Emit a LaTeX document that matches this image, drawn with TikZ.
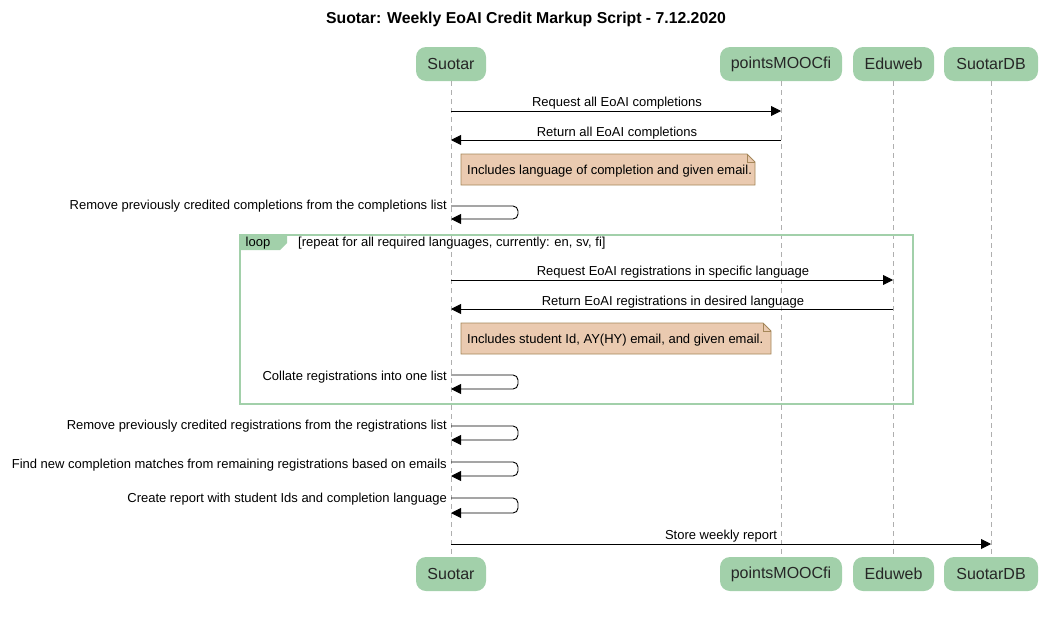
\documentclass[tikz,border=0pt]{standalone}
\usepackage{fontspec}
\setmainfont{Liberation Sans}
\usetikzlibrary{arrows.meta}
\definecolor{partfill}{RGB}{162,208,170}
\definecolor{notefill}{RGB}{234,202,176}
\definecolor{notedraw}{RGB}{165,135,90}
\definecolor{lifegray}{RGB}{175,175,175}
\tikzset{
  part/.style={fill=partfill, rounded corners=10pt, minimum height=34pt, inner xsep=0pt, font=\fontsize{16}{18}\selectfont, text=black!85},
  msg/.style={-{Triangle[length=10pt,width=10pt]}, line width=0.9pt},
  selfmsg/.style={msg, rounded corners=5pt},
  lbl/.style={font=\fontsize{13}{15}\selectfont, inner sep=0pt},
  life/.style={draw=lifegray, dash pattern=on 5pt off 4pt, line width=0.8pt},
  notebox/.style={fill=notefill, draw=notedraw, line width=0.8pt},
  frame/.style={draw=partfill, line width=1.6pt},
}
\begin{document}
\begin{tikzpicture}[x=1pt,y=-1pt]
\useasboundingbox (0,0) rectangle (1052,616);
% title
\node[font=\bfseries\fontsize{15.8}{18}\selectfont] (title) at (526,19.5) {Suotar: Weekly EoAI Credit Markup Script - 7.12.2020};
% participants
\node[part, minimum width=70pt] (sT) at (451,64) {Suotar};
\node[part, minimum width=122pt] (pT) at (781,64) {pointsMOOCfi};
\node[part, minimum width=81pt] (eT) at (893.5,64) {Eduweb};
\node[part, minimum width=94pt] (dT) at (991,64) {SuotarDB};
\node[part, minimum width=70pt] (sB) at (451,574) {Suotar};
\node[part, minimum width=122pt] (pB) at (781,574) {pointsMOOCfi};
\node[part, minimum width=81pt] (eB) at (893.5,574) {Eduweb};
\node[part, minimum width=94pt] (dB) at (991,574) {SuotarDB};
% lifelines
\draw[life] (sT.south) -- (sB.north);
\draw[life] (pT.south) -- (pB.north);
\draw[life] (eT.south) -- (eB.north);
\draw[life] (dT.south) -- (dB.north);
% loop frame
\draw[frame] (240,235) rectangle (913,404);
\fill[partfill] (240,235) -- (287,235) -- (287,243) -- (280,250) -- (240,250) -- cycle;
\node[lbl] (looptag) at (258,243.5) {loop};
\node[lbl, anchor=west] (loopcond) at (298,243.5) {[repeat for all required languages, currently: en, sv, fi]};
% message 1
\coordinate (m1a) at (451,111); \coordinate (m1b) at (781,111);
\draw[msg] (m1a) -- (m1b);
\node[lbl] (l1) at (617,103.5) {Request all EoAI completions};
% message 2
\coordinate (m2a) at (781,140); \coordinate (m2b) at (451,140);
\draw[msg] (m2a) -- (m2b);
\node[lbl] (l2) at (617,133.5) {Return all EoAI completions};
% note 1
\draw[notebox] (461,154) -- (747,154) -- (755,162) -- (755,185) -- (461,185) -- cycle;
\draw[draw=notedraw, line width=0.8pt] (747,154) -- (747,162) -- (755,162);
\node[lbl, anchor=west] (n1) at (467,171.5) {Includes language of completion and given email.};
% self 1
\coordinate (s1a) at (451,206); \coordinate (s1b) at (451,219);
\draw[selfmsg] (s1a) -- ++(67,0) -- ++(0,13) -- (s1b);
\node[lbl, anchor=east] (t1) at (447,206.5) {Remove previously credited completions from the completions list};
% message 3
\coordinate (m3a) at (451,280); \coordinate (m3b) at (893,280);
\draw[msg] (m3a) -- (m3b);
\node[lbl] (l3) at (673,272.5) {Request EoAI registrations in specific language};
% message 4
\coordinate (m4a) at (893,309); \coordinate (m4b) at (451,309);
\draw[msg] (m4a) -- (m4b);
\node[lbl] (l4) at (673,302.5) {Return EoAI registrations in desired language};
% note 2
\draw[notebox] (461,323) -- (763,323) -- (771,331) -- (771,354) -- (461,354) -- cycle;
\draw[draw=notedraw, line width=0.8pt] (763,323) -- (763,331) -- (771,331);
\node[lbl, anchor=west] (n2) at (467,340) {Includes student Id, AY(HY) email, and given email.};
% self 2
\coordinate (s2a) at (451,375); \coordinate (s2b) at (451,389);
\draw[selfmsg] (s2a) -- ++(67,0) -- ++(0,14) -- (s2b);
\node[lbl, anchor=east] (t2) at (447,377.5) {Collate registrations into one list};
% self 3
\coordinate (s3a) at (451,426); \coordinate (s3b) at (451,440);
\draw[selfmsg] (s3a) -- ++(67,0) -- ++(0,14) -- (s3b);
\node[lbl, anchor=east] (t3) at (447,426.5) {Remove previously credited registrations from the registrations list};
% self 4
\coordinate (s4a) at (451,462); \coordinate (s4b) at (451,476);
\draw[selfmsg] (s4a) -- ++(67,0) -- ++(0,14) -- (s4b);
\node[lbl, anchor=east] (t4) at (447,465.5) {Find new completion matches from remaining registrations based on emails};
% self 5
\coordinate (s5a) at (451,498); \coordinate (s5b) at (451,513);
\draw[selfmsg] (s5a) -- ++(67,0) -- ++(0,15) -- (s5b);
\node[lbl, anchor=east] (t5) at (447,499.5) {Create report with student Ids and completion language};
% message 5
\coordinate (m5a) at (451,544); \coordinate (m5b) at (991,544);
\draw[msg] (m5a) -- (m5b);
\node[lbl] (l5) at (721,536.5) {Store weekly report};
\end{tikzpicture}
\end{document}
